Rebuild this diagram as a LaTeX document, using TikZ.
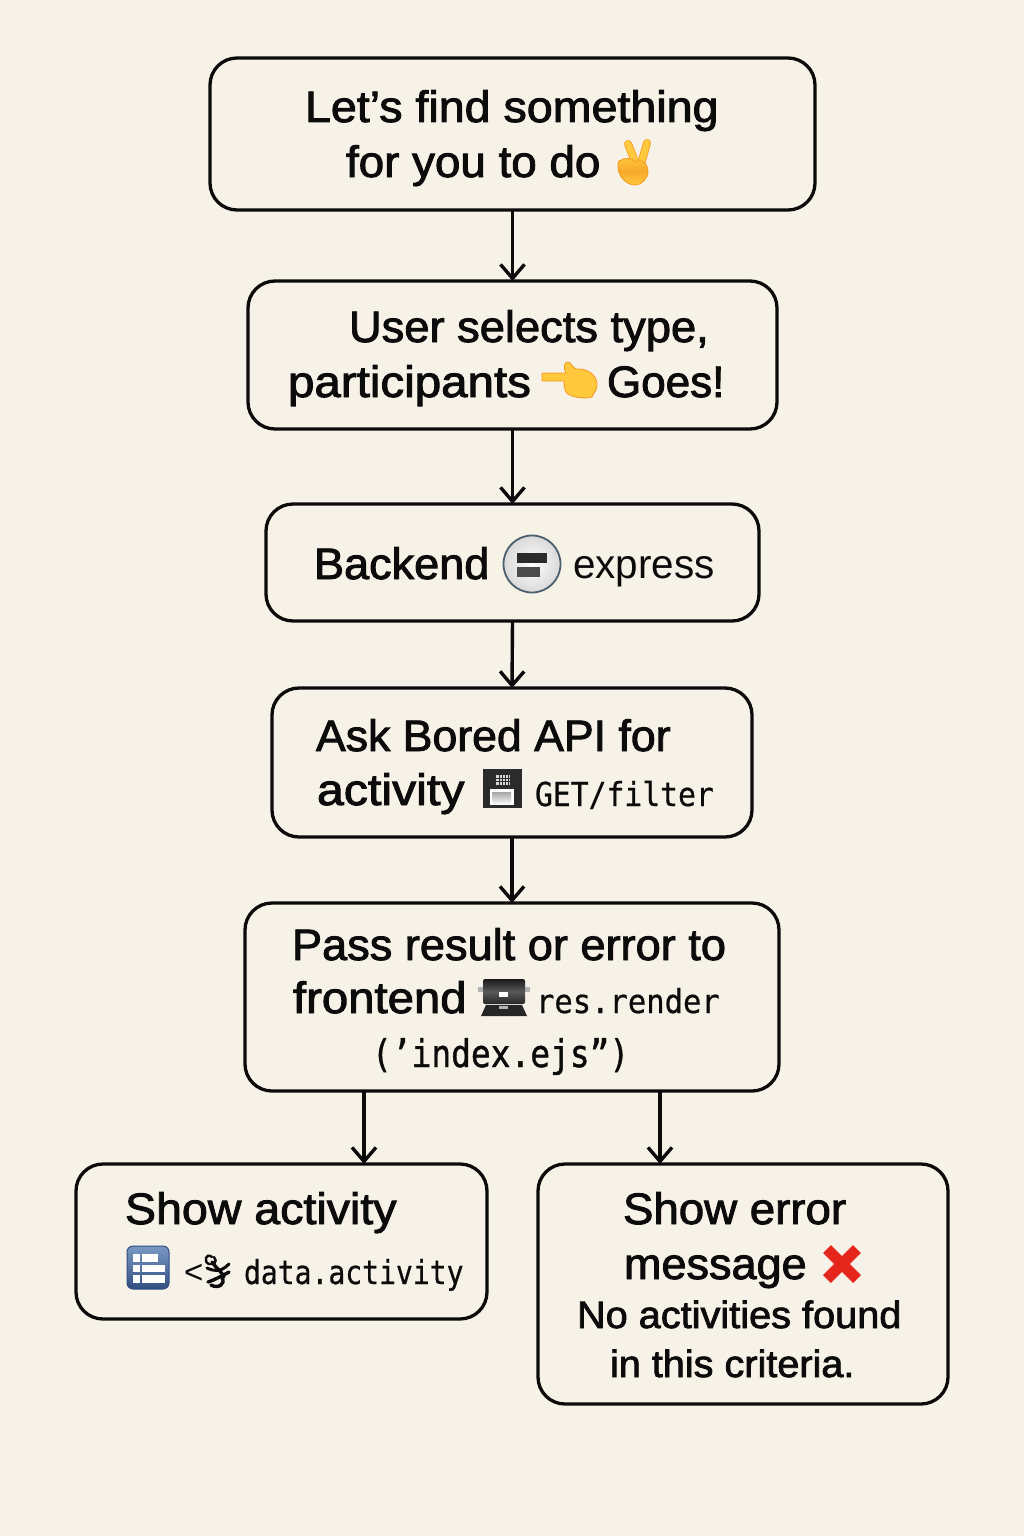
\documentclass[tikz,border=0pt]{standalone}
\usepackage{fontspec}
\setmainfont{Liberation Sans}
\newfontfamily\mainf[FakeBold=2]{Liberation Sans}
\newfontfamily\lightf{Liberation Sans}
\newfontfamily\codef[FakeBold=0.6]{DejaVu Sans Mono}
\newfontfamily\codeb[FakeBold=1.2]{DejaVu Sans Mono}
\usetikzlibrary{arrows.meta}
\definecolor{pagebg}{HTML}{F7F2E7}
\definecolor{ink}{HTML}{0B0B0B}
\definecolor{hand}{HTML}{FFC83D}
\definecolor{handd}{HTML}{F59A23}
\definecolor{tblue}{HTML}{5A7FB5}
\definecolor{tblued}{HTML}{2F4F80}
\definecolor{xred}{HTML}{E5261C}
\definecolor{metal}{HTML}{2B2B2B}
\definecolor{ringc}{HTML}{4A6070}
\tikzset{
  x=1pt,y=-1pt,
  flowbox/.style={draw=ink,line width=3.3pt,rounded corners=27pt,inner sep=0pt,outer sep=0pt,fill=none},
  flow/.style={draw=ink,line width=3.4pt,-{Straight Barb[length=14pt,width=24pt,line width=3.4pt]}},
  lab/.style={anchor=base west,inner sep=0pt,outer sep=0pt,text=ink},
  skin/.style={fill=hand,draw=handd,line width=0.8pt,line join=round},
}
\newcommand{\hv}{\fontsize{44}{44}\mainf}
\newcommand{\hs}{\fontsize{38}{38}\mainf}
\newcommand{\cd}{\fontsize{33}{33}\codef}
\newcommand{\sx}[2]{\scalebox{#1}[1]{#2}}
\newcommand{\boxat}[5]{\node[flowbox,minimum width=#4 pt-#2 pt,minimum height=#5 pt-#3 pt] (#1) at ({(#2+#4)/2},{(#3+#5)/2}) {};}
\begin{document}
\begin{tikzpicture}
\useasboundingbox[fill=pagebg] (0,0) rectangle (1024,1536);
\boxat{b1}{210}{58}{815}{210}
\boxat{b2}{248}{281}{777}{429}
\boxat{b3}{266}{504}{759}{621}
\boxat{b4}{272}{688}{752}{837}
\boxat{b5}{245}{903}{779}{1091}
\boxat{b6}{76}{1164}{487}{1319}
\boxat{b7}{538}{1164}{948}{1404}
\draw[flow] (b1.south) -- (b2.north);
\draw[flow] (b2.south) -- (b3.north);
\draw[flow] (b3.south) -- (b4.north);
\draw[flow] (b4.south) -- (b5.north);
\coordinate (c6) at (364,1164);
\coordinate (c7) at (660,1164);
\draw[flow] (c6 |- b5.south) -- (c6);
\draw[flow] (c7 |- b5.south) -- (c7);
\node[lab] (t1a) at (305,122) {\hv\sx{1.059}{Let’s find something}};
\node[lab] (t1b) at (346,177) {\hv\sx{1.04}{for you to do}};
\node[lab] (t2a) at (349,342) {\hv\sx{1.029}{User selects type,}};
\node[lab] (t2b) at (288,397) {\hv\sx{1.08}{participants}};
\node[lab] (t2c) at (607,397) {\hv Goes!};
\node[lab] (t3a) at (314,579) {\hv\sx{1.024}{Backend}};
\node[lab] (t3b) at (573,578) {\fontsize{41}{41}\lightf\sx{.986}{express}};
\node[lab] (t4a) at (316,751) {\hv\sx{1.014}{Ask Bored API for}};
\node[lab] (t4b) at (317,805) {\hv\sx{1.097}{activity}};
\node[lab] (t4c) at (535,806) {\cd\sx{.90}{GET/filter}};
\node[lab] (t5a) at (292,960) {\hv\sx{1.026}{Pass result or error to}};
\node[lab] (t5b) at (293,1013) {\hv\sx{1.075}{frontend}};
\node[lab] (t5c) at (536,1013) {\cd\sx{.925}{res.render}};
\node[lab] (t5d) at (372,1067) {\fontsize{38}{38}\codeb\sx{.865}{(’index.ejs”)}};
\node[lab] (t6a) at (125,1224) {\hv\sx{1.058}{Show activity}};
\node[lab] (t6b) at (184,1283) {\fontsize{33}{33}\lightf <};
\node[lab] (t6c) at (244,1284) {\cd\sx{.85}{data.activity}};
\node[lab] (t7a) at (623,1224) {\hv\sx{1.037}{Show error}};
\node[lab] (t7b) at (624,1279) {\hv\sx{1.023}{message}};
\node[lab] (t7c) at (577,1328) {\hs\sx{1.045}{No activities found}};
\node[lab] (t7d) at (610,1377) {\hs\sx{1.043}{in this criteria.}};
% victory hand
\draw[handd,line width=8pt,line cap=round] (628,144) -- (636,164);
\draw[handd,line width=8pt,line cap=round] (647,143) -- (641,164);
\draw[hand,line width=6.4pt,line cap=round] (628,144) -- (636,164);
\draw[hand,line width=6.4pt,line cap=round] (647,143) -- (641,164);
\path[skin,top color=hand,bottom color=hand,middle color=handd!70!hand]
  (619,161) .. controls (625,157) and (632,158) .. (636,162)
  .. controls (642,158) and (648,164) .. (648,172)
  .. controls (648,178) and (642,185) .. (635,185)
  .. controls (626,185) and (618,176) .. (618,167)
  .. controls (618,164) and (618,162) .. (619,161) -- cycle;
% pointing hand
\path[skin] (542,373) -- (566,373)
  .. controls (563,368) and (564,362) .. (568,362)
  .. controls (571,362) and (573,368) .. (576,369)
  .. controls (588,368) and (598,376) .. (597,386)
  .. controls (597,390) and (594,392) .. (592,397)
  .. controls (586,399) and (570,398) .. (566,392)
  .. controls (564,388) and (564,384) .. (564,381)
  -- (542,381) -- cycle;
% express icon
\shade[inner color=white,outer color=black!15,draw=ringc,line width=1.8pt] (532,564) circle[radius=28.5];
\fill[metal] (517,553) rectangle (547,563);
\fill[metal!85!white] (517,567) rectangle (540,577);
% floppy
\fill[metal] (483,769) rectangle (522,808);
\fill[white!85!black] (496,775) rectangle (510,785);
\foreach \gx in {499,502,505,508}{\draw[metal,line width=0.8pt] (\gx,775) -- (\gx,785);}
\foreach \gy in {778,781}{\draw[metal,line width=0.8pt] (496,\gy) -- (510,\gy);}
\fill[white] (490,789) rectangle (514,805);
\shade[top color=black!35,bottom color=black!5] (492,792) rectangle (511,803);
% drawer
\fill[black!30] (478,987) rectangle (483,992);
\fill[black!30] (525,987) rectangle (530,992);
\shade[rounded corners=2pt,top color=black!90,bottom color=black!85,middle color=black!65] (483,979) rectangle (525,1004);
\fill[black!85] (486,1005) -- (522,1005) -- (527,1016) -- (481,1016) -- cycle;
\fill[white] (499,992) rectangle (508,997);
\fill[black!30] (499,1006) rectangle (508,1009);
% table icon
\shade[rounded corners=6pt,top color=tblue!80!white,bottom color=tblued,draw=tblued,line width=1pt] (127,1246) rectangle (169,1289);
\fill[white] (133,1254) rectangle (140,1262);
\fill[white] (142,1254) rectangle (158,1262);
\fill[white] (133,1265) rectangle (140,1272);
\fill[white] (142,1265) rectangle (165,1272);
\fill[white] (133,1275) rectangle (140,1283);
\fill[white] (142,1275) rectangle (165,1283);
% scribble glyph
\draw[ink,line width=2.4pt,line cap=round] (212,1257) .. controls (206,1252) and (203,1262) .. (209,1264) .. controls (214,1265) and (218,1262) .. (214,1257);
\draw[ink,line width=3pt,line cap=round] (207,1268) .. controls (214,1271) and (220,1273) .. (229,1264);
\draw[ink,line width=3.4pt,line cap=round] (212,1262) .. controls (216,1268) and (222,1272) .. (224,1277);
\draw[ink,line width=3.4pt,line cap=round] (208,1282) .. controls (214,1280) and (222,1276) .. (229,1272);
\draw[ink,line width=3.4pt,line cap=round] (211,1285) .. controls (218,1289) and (226,1284) .. (222,1278);
% red cross
\draw[xred,line width=11pt] (827,1249) -- (857,1279);
\draw[xred,line width=11pt] (857,1249) -- (827,1279);
\end{tikzpicture}
\end{document}
